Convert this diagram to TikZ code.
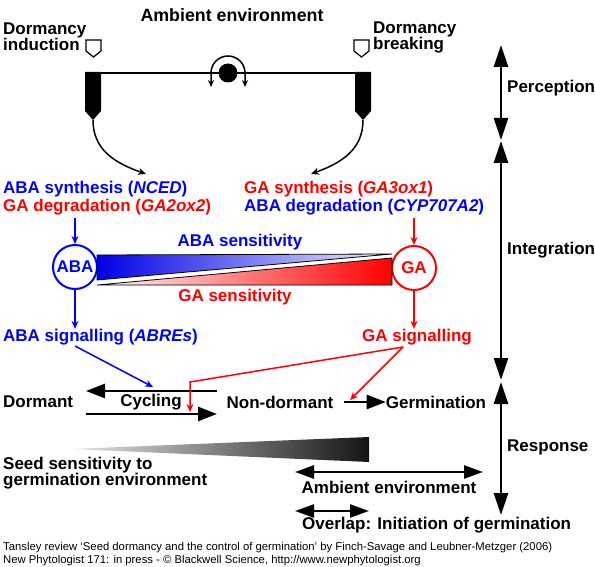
\documentclass[tikz,border=0pt]{standalone}
\usepackage{fontspec}
\setmainfont{Liberation Sans}
\usetikzlibrary{arrows.meta,positioning}

\begin{document}
\begin{tikzpicture}[x=1pt, y=-1pt,
    lbl/.style={font=\fontsize{17}{16}\selectfont\bfseries, inner sep=0pt},
    foot/.style={font=\fontsize{11.3}{12.5}\selectfont, inner sep=0pt, align=left},
    hormone/.style={circle, draw, line width=2pt, minimum size=44pt, inner sep=0pt,
        font=\fontsize{17}{16}\selectfont\bfseries},
    thinarr/.style={line width=1.5pt, -{Stealth[length=8pt,width=7pt]}},
    bigarr/.style={line width=2.6pt, -{Triangle[length=19pt,width=14pt]}},
    dblarr/.style={line width=2.6pt, {Triangle[length=19pt,width=13pt]}-{Triangle[length=19pt,width=13pt]}},
    sidearr/.style={line width=2.8pt, {Triangle[length=22pt,width=14pt]}-{Triangle[length=22pt,width=14pt]}},
    shield/.style={line width=1.2pt, fill=white}]
\useasboundingbox (0,0) rectangle (595,567);

% Perception
\node[lbl, font=\fontsize{17.8}{16}\selectfont\bfseries] (ambtop) at (232,15) {Ambient environment};
\node[lbl, anchor=west, align=left] (induct) at (3,37) {Dormancy\\induction};
\node[lbl, anchor=west, align=left] (breaking) at (373,37) {Dormancy\\breaking};
\draw[shield] (86,40) -- (101,40) -- (101,51) -- (93.5,57) -- (86,51) -- cycle;
\draw[shield] (354,40) -- (369,40) -- (369,51) -- (361.5,57) -- (354,51) -- cycle;
\draw[line width=2pt] (93,73) -- (363,73);
\fill (85,72) -- (101,72) -- (101,111) -- (93,120) -- (85,111) -- cycle;
\fill (355,72) -- (371,72) -- (371,111) -- (363,120) -- (355,111) -- cycle;
\node[circle, fill=black, minimum size=19pt, inner sep=0pt] (sun) at (228,73) {};
\draw[line width=1.5pt, {Stealth[length=7pt,width=6pt]}-{Stealth[length=7pt,width=6pt]}]
    (211,87) -- (211,73) arc[start angle=180, end angle=360, radius=17] -- (245,87);
\coordinate (ltip) at (93,120);
\coordinate (rtip) at (363,120);

% Integration
\node[lbl, blue, anchor=west] (abasyn) at (3,189) {ABA synthesis (\textit{NCED})};
\node[lbl, red, anchor=west] (gadeg) at (3,207) {GA degradation (\textit{GA2ox2})};
\node[lbl, red, anchor=west] (gasyn) at (244,189) {GA synthesis (\textit{GA3ox1})};
\node[lbl, blue, anchor=west] (abadeg) at (244,207) {ABA degradation (\textit{CYP707A2})};
\draw[line width=1.5pt, -{Stealth[length=8pt,width=7pt]}]
    (ltip) .. controls (93,150) and (115,163) .. (146,174);
\draw[line width=1.5pt, -{Stealth[length=8pt,width=7pt]}]
    (rtip) .. controls (363,150) and (341,163) .. (311,174);

\node[hormone, blue] (aba) at (75,267) {ABA};
\node[hormone, red] (ga) at (414,268) {GA};
\draw[thinarr, blue] (aba |- gadeg.south) ++(0,3) -- (aba.north);
\draw[thinarr, red] (ga |- abadeg.south) ++(0,3) -- (ga.north);

\shadedraw[left color=blue!90!black, right color=blue!5, draw=black, line width=0.8pt]
    (97,255) -- (392,254) -- (97,280) -- cycle;
\shadedraw[left color=red!3, right color=red, draw=black, line width=0.8pt]
    (97,285) -- (392,285) -- (392,258) -- cycle;
\node[lbl, blue] (abasens) at (240,242) {ABA sensitivity};
\node[lbl, red] (gasens) at (235,297) {GA sensitivity};

\node[lbl, blue, anchor=west] (abasig) at (3,337) {ABA signalling (\textit{ABREs})};
\node[lbl, red] (gasig) at (417,337) {GA signalling};
\draw[thinarr, blue] (aba.south) -- (aba |- abasig.north);
\draw[thinarr, red] (ga.south) -- (ga |- gasig.north);

% Response
\node[lbl, anchor=west] (dormant) at (3,402) {Dormant};
\node[lbl] (cycling) at (151,402) {Cycling};
\node[lbl] (nondorm) at (280,402) {Non-dormant};
\node[lbl] (germ) at (436,402) {Germination};
\coordinate (cycL) at (86,391);
\coordinate (cycR) at (217,391);
\draw[bigarr] (cycR) -- (cycL);
\draw[bigarr] (cycL |- 0,414) -- (cycR |- 0,414);
\coordinate (ngstart) at (344,402);
\draw[bigarr] (ngstart) -- (germ.west);

\coordinate (abafrom) at (75,346);
\coordinate (gasplit) at (403,347);
\draw[thinarr, blue] (abafrom) -- (153,387);
\draw[thinarr, red] (gasplit) -- (190,382) -- (190,412);
\draw[thinarr, red] (gasplit) -- (350,400);

\shade[left color=black!10, right color=black!92] (72,449) -- (369,437) -- (369,462) -- cycle;
\node[lbl, anchor=west, align=left] (seedsens) at (3,473) {Seed sensitivity to\\germination environment};

\coordinate (envL) at (295,472);
\coordinate (envR) at (483,472);
\draw[dblarr] (envL) -- (envR);
\node[lbl] (ambbot) at (389,487) {Ambient environment};
\draw[dblarr] (envL |- 0,511) -- (369,511);
\node[lbl, anchor=west] (overlap) at (302,525) {Overlap: Initiation of germination};

% Phases
\draw[sidearr] (501,45) -- (501,140);
\draw[sidearr] (501,141) -- (501,380);
\draw[sidearr] (501,382) -- (501,515);
\node[lbl, anchor=west] (percep) at (507,88) {Perception};
\node[lbl, anchor=west] (integ) at (507,250) {Integration};
\node[lbl, anchor=west] (resp) at (507,447) {Response};

% Footer
\node[foot, anchor=west] (credit) at (3,554)
    {Tansley review ‘Seed dormancy and the control of germination’ by Finch-Savage and Leubner-Metzger (2006)\\
     New Phytologist 171: in press - © Blackwell Science, http://www.newphytologist.org};
\end{tikzpicture}
\end{document}
